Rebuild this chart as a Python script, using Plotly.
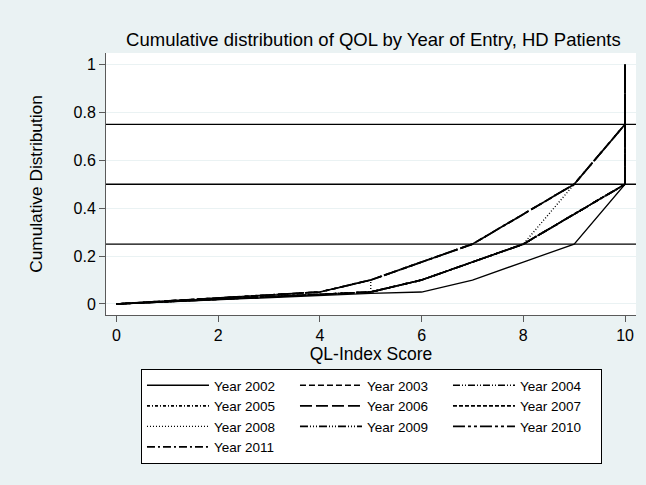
"""
Cumulative distribution of QOL by year of entry (HD patients)
"""
import plotly.graph_objects as go

# QL-Index score points (last point repeated to close the CDF at 1)
score = [0, 1, 2, 3, 4, 5, 6, 7, 8, 9, 10, 10]
score_2008 = [0, 1, 2, 3, 4, 5, 5, 6, 7, 8, 9, 10, 10]

# cumulative proportions per year of entry
cdf_2002 = [0, 0.009, 0.018, 0.027, 0.037, 0.044, 0.05, 0.10, 0.175, 0.25, 0.50, 1.0]
cdf_2003 = [0, 0.012, 0.025, 0.037, 0.05, 0.10, 0.175, 0.25, 0.375, 0.50, 0.75, 1.0]
cdf_2004 = [0, 0.010, 0.021, 0.031, 0.041, 0.05, 0.10, 0.175, 0.25, 0.375, 0.50, 1.0]
cdf_2005 = [0, 0.010, 0.021, 0.031, 0.041, 0.05, 0.10, 0.175, 0.25, 0.375, 0.50, 1.0]
cdf_2006 = [0, 0.012, 0.025, 0.037, 0.05, 0.10, 0.175, 0.25, 0.375, 0.50, 0.75, 1.0]
cdf_2007 = [0, 0.010, 0.021, 0.031, 0.041, 0.05, 0.10, 0.175, 0.25, 0.375, 0.50, 1.0]
cdf_2008 = [0, 0.012, 0.025, 0.037, 0.05, 0.10, 0.05, 0.10, 0.175, 0.25, 0.50, 0.75, 1.0]
cdf_2009 = [0, 0.010, 0.021, 0.031, 0.041, 0.05, 0.10, 0.175, 0.25, 0.375, 0.50, 1.0]
cdf_2010 = [0, 0.012, 0.025, 0.037, 0.05, 0.10, 0.175, 0.25, 0.375, 0.50, 0.75, 1.0]
cdf_2011 = [0, 0.010, 0.021, 0.031, 0.041, 0.05, 0.10, 0.175, 0.25, 0.375, 0.50, 1.0]

# quartile reference lines
ref_levels = [0.25, 0.5, 0.75]

series = [
    ("Year 2002", score, cdf_2002, "solid", 1.3),
    ("Year 2003", score, cdf_2003, "6px,3px", 1.7),
    ("Year 2004", score, cdf_2004, "7px,2px,1px,2px,1px,2px", 1.7),
    ("Year 2005", score, cdf_2005, "3px,2px,1px,2px", 1.7),
    ("Year 2006", score, cdf_2006, "12px,4px", 1.7),
    ("Year 2007", score, cdf_2007, "4px,2px", 1.7),
    ("Year 2008", score_2008, cdf_2008, "1px,2px", 1.4),
    ("Year 2009", score, cdf_2009, "8px,2px,1px,2px,1px,2px,1px,2px", 1.7),
    ("Year 2010", score, cdf_2010, "12px,3px,3px,3px,3px,3px", 1.7),
    ("Year 2011", score, cdf_2011, "8px,3px,2px,3px", 1.7),
]

BG = "#EAF2F3"
AXIS = "#5a5a5a"
FONT = "Liberation Sans, Arial, sans-serif"

fig = go.Figure()

for name, xs, ys, dash, width in series:
    fig.add_trace(go.Scatter(
        x=xs,
        y=ys,
        mode='lines',
        name=name,
        line=dict(color='black', width=width, dash=dash),
    ))

for level in ref_levels:
    fig.add_shape(
        type='line', xref='paper', x0=0, x1=1, yref='y', y0=level, y1=level,
        line=dict(color='black', width=1.3)
    )

fig.update_layout(
    width=646,
    height=485,
    margin=dict(l=106, r=10, t=53, b=170),
    paper_bgcolor=BG,
    plot_bgcolor='white',
    font=dict(family=FONT, color='black'),
    title=dict(
        text="Cumulative distribution of QOL by Year of Entry, HD Patients",
        x=0.578, xref='container', xanchor='center',
        y=0.918, yref='container', yanchor='middle',
        font=dict(size=18.5, color='black')
    ),
    xaxis=dict(
        range=[-0.206, 10.216],
        tickvals=[0, 2, 4, 6, 8, 10],
        showgrid=False, zeroline=False,
        showline=True, linecolor=AXIS, linewidth=1,
        ticks='outside', ticklen=6, tickcolor=AXIS,
        tickfont=dict(size=16),
        title=dict(text="QL-Index Score", font=dict(size=17.5), standoff=1)
    ),
    yaxis=dict(
        range=[-0.046, 1.048],
        tickvals=[0, 0.2, 0.4, 0.6, 0.8, 1],
        showgrid=True, gridcolor=BG, gridwidth=1,
        zeroline=False,
        showline=True, linecolor=AXIS, linewidth=1,
        ticks='outside', ticklen=6, tickcolor=AXIS,
        tickfont=dict(size=16),
        title=dict(text="Cumulative Distribution", font=dict(size=17.3), standoff=26)
    ),
    showlegend=True,
    legend=dict(
        orientation='h',
        x=0.066, xanchor='left',
        y=-0.206, yanchor='top',
        bgcolor='white',
        bordercolor='black',
        borderwidth=1,
        itemwidth=62,
        entrywidth=76,
        font=dict(size=13.5),
        traceorder='normal'
    )
)

# page has a default body margin; drop it so the figure fills the window
fig.write_html(
    "out.html",
    config={'displayModeBar': False},
    post_script="document.body.style.margin = '0px';"
)
